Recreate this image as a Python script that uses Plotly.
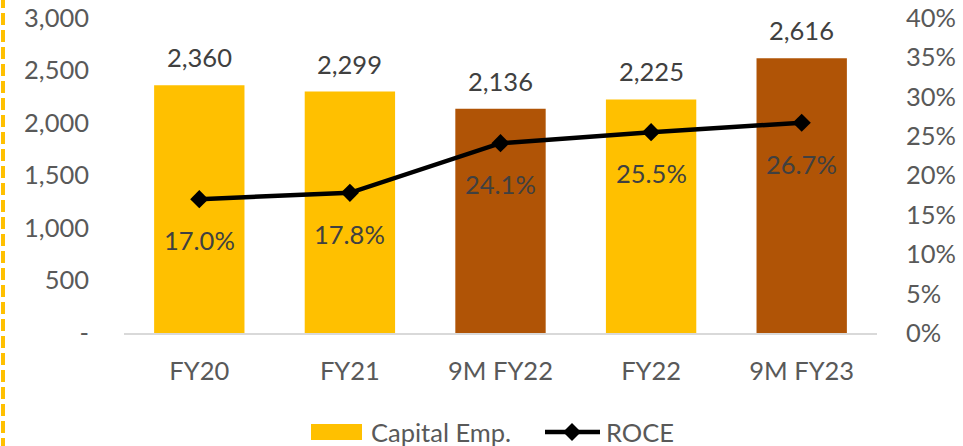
import plotly.graph_objects as go

categories = ["FY20", "FY21", "9M FY22", "FY22", "9M FY23"]
capital_emp = [2360, 2299, 2136, 2225, 2616]
roce = [17.0, 17.8, 24.1, 25.5, 26.7]
bar_colors = ["#FFC000", "#FFC000", "#B05406", "#FFC000", "#B05406"]
left_ticks = [0, 500, 1000, 1500, 2000, 2500, 3000]
left_labels = ["-", "500", "1,000", "1,500", "2,000", "2,500", "3,000"]
right_ticks = [0, 5, 10, 15, 20, 25, 30, 35, 40]
right_labels = [f"{t}%" for t in right_ticks]

FONT = "Lato, Carlito, 'Open Sans', sans-serif"
FS = 25.5

# plot area in pixels
L, R, T, B = 124, 877, 18, 333
W, H = R - L, B - T


def px(x):
    return (x - L) / W


def py(y):
    return (B - y) / H


fig = go.Figure()
fig.add_trace(go.Bar(
    x=categories, y=capital_emp, name="Capital Emp.",
    marker=dict(color=bar_colors, line=dict(width=0)),
    width=0.6, yaxis="y", showlegend=False,
))
fig.add_trace(go.Scatter(
    x=categories, y=roce, name="ROCE", mode="lines+markers",
    line=dict(color="black", width=4.5),
    marker=dict(symbol="diamond", size=14, color="black"),
    yaxis="y2", showlegend=False,
))

annotations = []
for c, v in zip(categories, capital_emp):
    annotations.append(dict(x=c, y=v, xref="x", yref="y", text=f"{v:,}",
                            showarrow=False, yshift=28,
                            font=dict(size=FS, color="#404040", family=FONT)))
for c, v in zip(categories, roce):
    annotations.append(dict(x=c, y=v, xref="x", yref="y2", text=f"{v:.1f}%",
                            showarrow=False, yshift=-41,
                            font=dict(size=FS, color="#404040", family=FONT)))

# custom legend
annotations.append(dict(x=px(369), y=py(432), xref="paper", yref="paper",
                        xanchor="left", yanchor="middle", showarrow=False,
                        text="Capital Emp.", font=dict(size=FS, color="#595959", family=FONT)))
annotations.append(dict(x=px(604), y=py(432), xref="paper", yref="paper",
                        xanchor="left", yanchor="middle", showarrow=False,
                        text="ROCE", font=dict(size=FS, color="#595959", family=FONT)))

dx, dy = 9 / W, 9 / H
cx, cy = px(572), py(432)
shapes = [
    dict(type="line", xref="paper", yref="paper",
         x0=px(3), x1=px(3), y0=py(450), y1=py(-5),
         line=dict(color="#FFC000", width=4, dash="12px,5px")),
    dict(type="rect", xref="paper", yref="paper",
         x0=px(311), x1=px(362), y0=py(440), y1=py(424),
         fillcolor="#FFC000", line=dict(width=0)),
    dict(type="line", xref="paper", yref="paper",
         x0=px(545), x1=px(600), y0=cy, y1=cy,
         line=dict(color="black", width=4.5)),
    dict(type="path", xref="paper", yref="paper",
         path=f"M {cx-dx},{cy} L {cx},{cy+dy} L {cx+dx},{cy} L {cx},{cy-dy} Z",
         fillcolor="black", line=dict(width=0)),
]

fig.update_layout(
    width=963, height=446,
    margin=dict(l=L, r=963 - R, t=T, b=446 - B, autoexpand=False),
    paper_bgcolor="white", plot_bgcolor="white",
    font=dict(family=FONT, size=FS, color="#595959"),
    showlegend=False,
    xaxis=dict(showgrid=False, showline=True, linecolor="#D9D9D9", linewidth=2,
               ticks="", ticklabelstandoff=14, automargin=False,
               tickfont=dict(size=FS, color="#595959")),
    yaxis=dict(range=[0, 3000], tickvals=left_ticks, ticktext=left_labels,
               showgrid=False, zeroline=False, showline=False, automargin=False,
               ticklabelstandoff=34, tickfont=dict(size=FS, color="#595959")),
    yaxis2=dict(range=[0, 40], tickvals=right_ticks, ticktext=right_labels,
                overlaying="y", side="right", showgrid=False, zeroline=False,
                showline=False, ticklabelstandoff=28, automargin=False,
                tickfont=dict(size=FS, color="#595959")),
    annotations=annotations,
    shapes=shapes,
)

fig.write_html("out.html", config={"displayModeBar": False},
               post_script="document.body.style.margin='0';document.body.style.overflow='hidden';")
